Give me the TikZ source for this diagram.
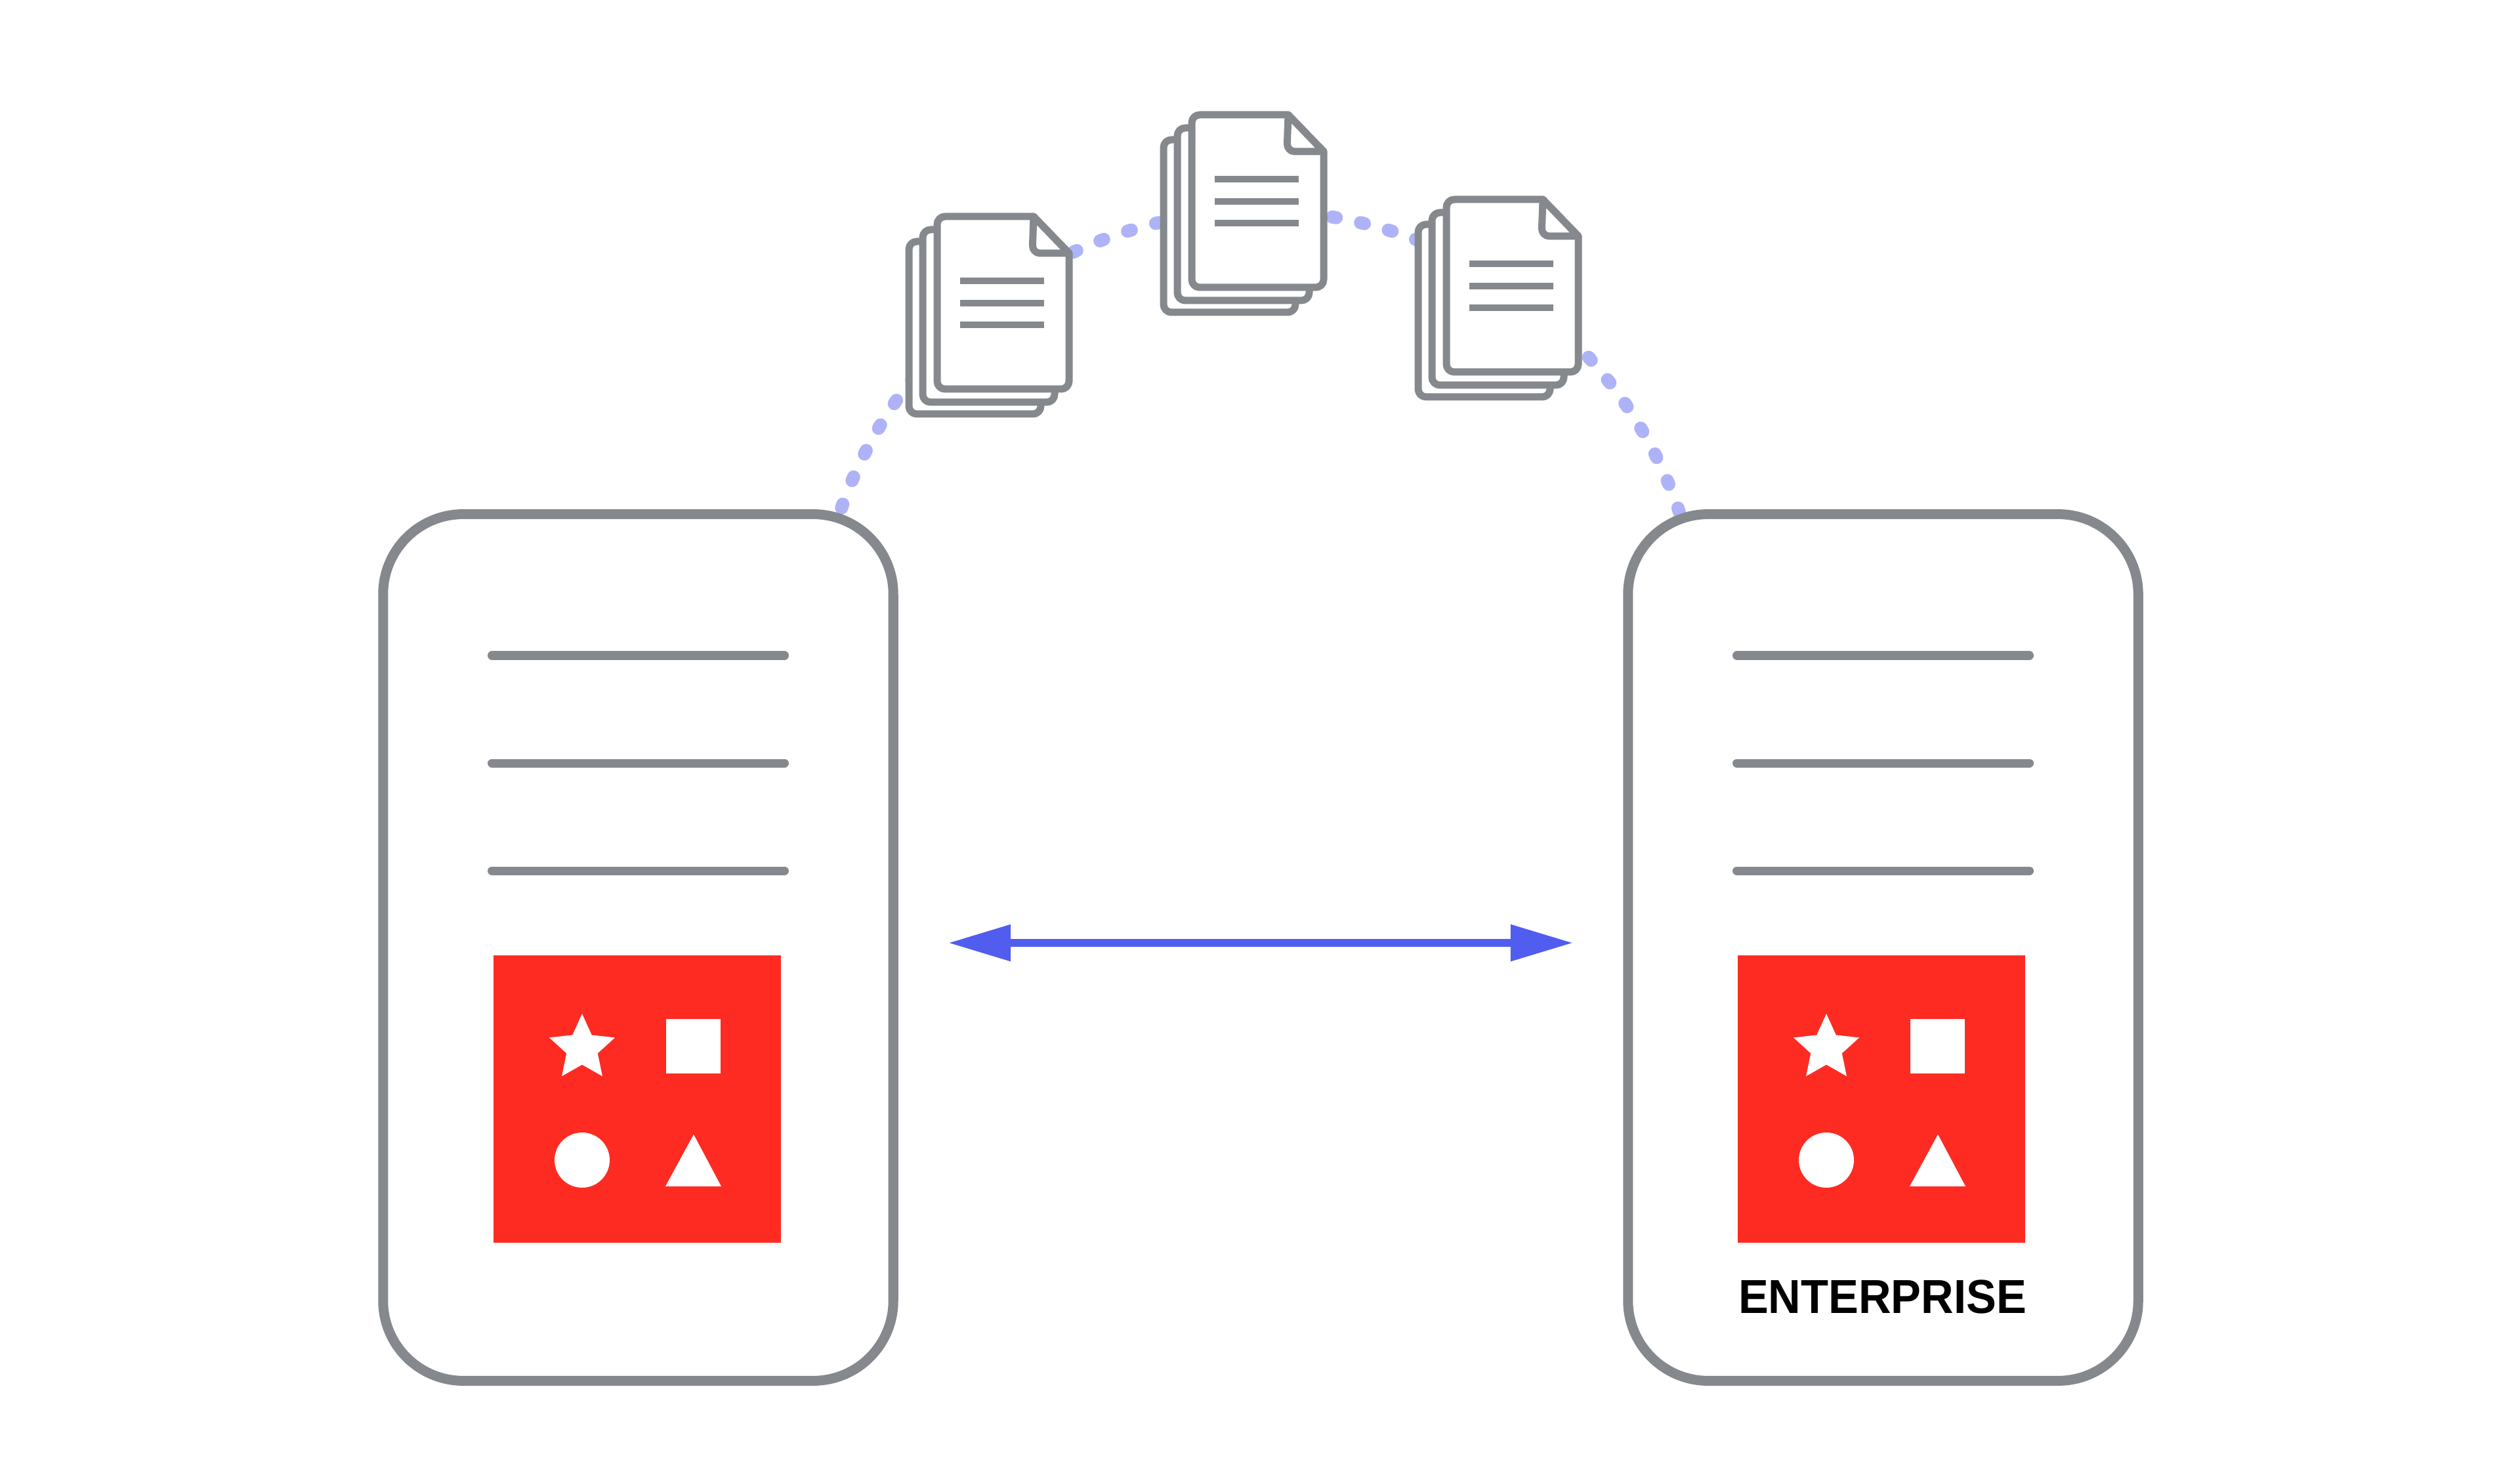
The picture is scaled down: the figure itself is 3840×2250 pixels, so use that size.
\documentclass[tikz,border=0pt]{standalone}
\usepackage{fontspec}
\usepackage{graphicx}
\setmainfont{Liberation Sans}
\usetikzlibrary{arrows.meta,calc}
\definecolor{gr}{HTML}{85898D}
\definecolor{rd}{HTML}{FE2B22}
\definecolor{dotc}{HTML}{AEB3F7}
\definecolor{arrc}{HTML}{515DEE}
\tikzset{
  x=0.01cm,y=0.01cm,
  server/.style={draw=gr,line width=0.15cm,fill=white,rounded corners=1.22cm,rectangle,inner sep=0pt,minimum width=7.77cm,minimum height=13.2cm},
  slot/.style={draw=gr,line width=0.13cm,line cap=round},
  logo/.style={fill=rd,draw=none,rectangle,inner sep=0pt,minimum width=4.38cm,minimum height=4.37cm},
  sym/.style={fill=white,draw=none},
  page/.style={draw=gr,line width=0.11cm,fill=white,line join=round},
  txtline/.style={draw=gr,line width=0.1cm},
  dottedarc/.style={draw=dotc,line width=0.2cm,line cap=round,dash pattern=on 0.06cm off #1},
  link/.style={draw=arrc,line width=0.12cm,{Triangle[length=0.95cm,width=0.53cm]}-{Triangle[length=0.95cm,width=0.53cm]}},
}
% one page with a cut corner, top-left at (#1,#2)
\newcommand{\pageshape}[2]{%
  \draw[page] (#1+70,#2) [sharp corners] -- (#1+147,#2) -- (#1+201,#2-56) -- (#1+201,#2-150) [rounded corners=0.12cm] -- (#1+201,#2-263) -- (#1,#2-263) -- (#1,#2) -- cycle;
}
% page stack, top-left corner of the front page at (#2,#3)
\newcommand{\docstack}[3]{%
  \coordinate (#1) at (#2,#3);
  \pageshape{#2-43}{#3-38}
  \pageshape{#2-22}{#3-20}
  \pageshape{#2}{#3}
  \draw[page,rounded corners=0.12cm] (#2+147,#3) -- (#2+145,#3-56) [sharp corners] -- (#2+201,#3-56) -- cycle;
  \draw[txtline] (#2+35,#3-98) -- (#2+163,#3-98);
  \draw[txtline] (#2+35,#3-132) -- (#2+163,#3-132);
  \draw[txtline] (#2+35,#3-165) -- (#2+163,#3-165);
}
% server box centred at x=#2 with slot lines and the red logo whose left edge is #3
\newcommand{\serverbox}[3]{%
  \node[server] (#1) at (#2,806) {};
  \coordinate (#1s1a) at (#2-223,1251); \coordinate (#1s1b) at (#2+223,1251);
  \coordinate (#1s2a) at (#2-223,1087); \coordinate (#1s2b) at (#2+223,1087);
  \coordinate (#1s3a) at (#2-223,923); \coordinate (#1s3b) at (#2+223,923);
  \draw[slot] (#1s1a) -- (#1s1b);
  \draw[slot] (#1s2a) -- (#1s2b);
  \draw[slot] (#1s3a) -- (#1s3b);
  \node[logo] (#1logo) at (#3+219,575) {};
  \coordinate (#1star) at (#3+135,652.4);
  \fill[sym] (#1star) +(90:52.6) -- +(126:25) -- +(162:52.6) -- +(198:25) -- +(234:52.6) -- +(270:25) -- +(306:52.6) -- +(342:25) -- +(18:52.6) -- +(54:25) -- cycle;
  \fill[sym] (#3+263,614) rectangle (#3+346,697);
  \fill[sym] (#3+135,482) circle[radius=42];
  \fill[sym] (#3+262,442) -- (#3+347,442) -- (#3+305,521) -- cycle;
}
\begin{document}
\begin{tikzpicture}
  \useasboundingbox (0,0) rectangle (3840,2250);
  \fill[white] (0,0) rectangle (3840,2250);
  % dotted arc: one circle, four visible runs, drawn behind boxes and pages
  \coordinate (hub) at (1919.5,1253.4);
  \coordinate (d1) at ($(hub)+(160.75:675)$);
  \coordinate (d2) at ($(hub)+(114.9:675)$);
  \coordinate (d3) at ($(hub)+(80.56:675)$);
  \coordinate (d4) at ($(hub)+(42.06:675)$);
  \draw[dottedarc=0.3865cm] (d1) arc[start angle=160.75,end angle=135,radius=675];
  \draw[dottedarc=0.384cm] (d2) arc[start angle=114.9,end angle=98,radius=675];
  \draw[dottedarc=0.378cm] (d3) arc[start angle=80.56,end angle=60,radius=675];
  \draw[dottedarc=0.388cm] (d4) arc[start angle=42.06,end angle=17,radius=675];
  % servers
  \serverbox{left}{972.5}{752}
  \serverbox{right}{2869.5}{2648}
  % page stacks
  \docstack{docA}{1428}{1920}
  \docstack{docB}{1816}{2075}
  \docstack{docC}{2204}{1946}
  % double arrow
  \coordinate (al) at (1445,813);
  \coordinate (ar) at (2397,813);
  \draw[link] (al) -- (ar);
  % label
  \node[anchor=base,inner sep=0pt] (ent) at (2868.5,248.5) {\scalebox{0.945}[1]{\fontsize{20.66pt}{24pt}\selectfont\bfseries ENTERPRISE}};
\end{tikzpicture}
\end{document}
